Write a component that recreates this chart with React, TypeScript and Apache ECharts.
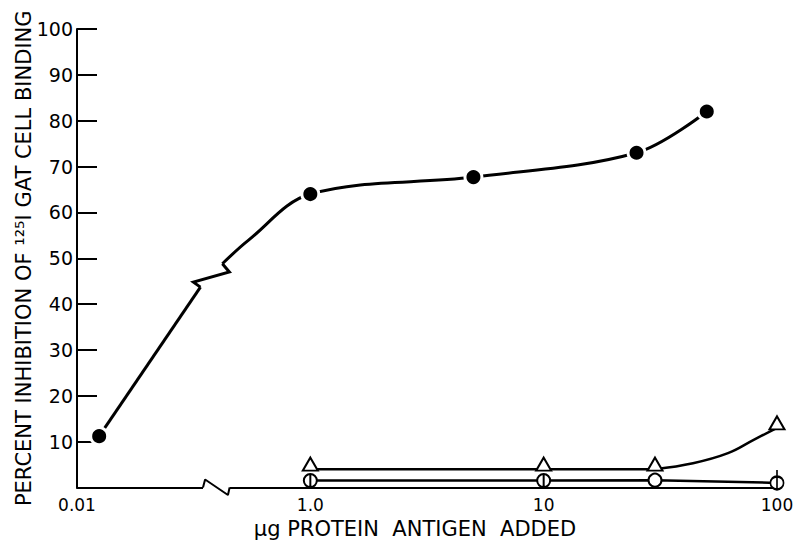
import React, { useEffect, useRef } from "react";
import * as echarts from "echarts";

// Filled circles: GAT-specific inhibition curve
const DOSE_UG = [0.01, 1, 5, 25, 50];
const GAT_INHIBITION = [11.2, 64, 67.7, 73, 82];

// Open triangles
const TRI_DOSE_UG = [1, 10, 30, 100];
const TRI_INHIBITION = [4.0, 4.0, 4.0, 13.0];

// Open circles
const CIRC_DOSE_UG = [1, 10, 30, 100];
const CIRC_INHIBITION = [1.5, 1.5, 1.6, 1.0];

// Course of the drawn curves between measured points (axis position, %)
const GAT_BREAK_POS = [-0.471, -0.501, -0.347, -0.377];
const GAT_BREAK_VAL = [43.7, 44.8, 47.0, 48.8];
const GAT_BEND_POS = [-0.266];
const GAT_BEND_VAL = [53.9];
const TRI_BEND_POS = [1.64, 1.79, 1.9];
const TRI_BEND_VAL = [5.3, 7.5, 10.4];

// Break drawn in the dose axis between 0.01 and 1.0
const AXIS_BREAK_POS = [-0.46, -0.451, -0.353, -0.346];
const AXIS_BREAK_VAL = [0, 1.74, -1.64, 0];

// Tick labels at axis positions -1, 0, 1, 2
const X_TICK_LABELS = ["0.01", "1.0", "10", "100"];

// Doses below 1 µg sit on a compressed log scale left of the break
const LOW_DOSE_SCALE = 0.4525;
const axisPos = (ug: number) =>
  ug >= 1 ? Math.log10(ug) : LOW_DOSE_SCALE * Math.log10(ug);

const FONT = '"DejaVu Sans", sans-serif';
const INK = "#000";

const PHI =
  "path://M10,0 A10,10 0 1,1 10,20 A10,10 0 1,1 10,0 Z M10,0 L10,20";
const PHI_STEM =
  "path://M10,10 A10,10 0 1,1 10,30 A10,10 0 1,1 10,10 Z M10,0 L10,30";

export default function App() {
  const ref = useRef<HTMLDivElement>(null);

  useEffect(() => {
    if (!ref.current) return;
    const chart = echarts.init(ref.current, null, { renderer: "svg" });

    const gatPoints = DOSE_UG.map((d, i) => [axisPos(d), GAT_INHIBITION[i]]);
    const breakPoints = GAT_BREAK_POS.map((p, i) => [p, GAT_BREAK_VAL[i]]);
    const bendPoints = GAT_BEND_POS.map((p, i) => [p, GAT_BEND_VAL[i]]);
    const triPoints = TRI_DOSE_UG.map((d, i) => [axisPos(d), TRI_INHIBITION[i]]);
    const triBend = TRI_BEND_POS.map((p, i) => [p, TRI_BEND_VAL[i]]);
    const circMarkers = [
      { symbol: PHI, symbolSize: [13, 13], symbolOffset: [0, 0] },
      { symbol: PHI, symbolSize: [13, 13], symbolOffset: [0, 0] },
      { symbol: "circle", symbolSize: [13, 13], symbolOffset: [0, 0] },
      { symbol: PHI_STEM, symbolSize: [13, 19.5], symbolOffset: [0, -3.25] },
    ];
    const circData = CIRC_DOSE_UG.map((d, i) => ({
      value: [axisPos(d), CIRC_INHIBITION[i]],
      ...circMarkers[i],
    }));
    const axisBreak = AXIS_BREAK_POS.map((p, i) => [p, AXIS_BREAK_VAL[i]]);

    chart.setOption({
      animation: false,
      backgroundColor: "#fff",
      grid: { left: 77, right: 20, top: 29, bottom: 62.5 },
      xAxis: {
        type: "value",
        min: -1,
        max: 2,
        interval: 1,
        axisLine: { show: true, onZero: false, lineStyle: { color: INK, width: 2 } },
        axisTick: { show: false },
        splitLine: { show: false },
        axisLabel: {
          showMinLabel: true,
          showMaxLabel: true,
          margin: 9,
          color: INK,
          fontFamily: FONT,
          fontSize: 17,
          formatter: (v: number) => X_TICK_LABELS[Math.round(v) + 1] ?? "",
        },
        name: "μg PROTEIN  ANTIGEN  ADDED",
        nameLocation: "middle",
        nameGap: 31,
        nameMoveOverlap: false,
        nameTextStyle: { color: INK, fontFamily: FONT, fontSize: 21, padding: [0, 24, 0, 0] },
      },
      yAxis: {
        type: "value",
        min: 0,
        max: 100,
        interval: 10,
        axisLine: { show: true, onZero: false, lineStyle: { color: INK, width: 2 } },
        axisTick: { show: true, inside: true, length: 20, lineStyle: { color: INK, width: 2 } },
        splitLine: { show: false },
        axisLabel: {
          margin: 4,
          color: INK,
          fontFamily: FONT,
          fontSize: 19,
          formatter: (v: number) => (v === 0 ? "" : String(v)),
        },
        name: "PERCENT INHIBITION OF ¹²⁵I GAT CELL BINDING",
        nameLocation: "middle",
        nameRotate: 90,
        nameGap: 43,
        nameMoveOverlap: false,
        nameTextStyle: { color: INK, fontFamily: FONT, fontSize: 21 },
      },
      series: [
        {
          name: "axis-break-mask",
          type: "line",
          clip: false,
          silent: true,
          showSymbol: false,
          z: 3,
          data: [axisBreak[0], axisBreak[3]],
          lineStyle: { color: "#fff", width: 6 },
        },
        {
          name: "axis-break",
          type: "line",
          clip: false,
          silent: true,
          showSymbol: false,
          z: 4,
          data: axisBreak,
          lineStyle: { color: INK, width: 2 },
        },
        {
          name: "GAT low dose",
          type: "line",
          showSymbol: false,
          z: 5,
          data: [gatPoints[0], breakPoints[0]],
          lineStyle: { color: INK, width: 3 },
        },
        {
          name: "GAT break",
          type: "line",
          showSymbol: false,
          z: 5,
          data: breakPoints,
          lineStyle: { color: INK, width: 3, join: "miter" },
        },
        {
          name: "GAT curve",
          type: "line",
          showSymbol: false,
          smooth: 0.35,
          z: 5,
          data: [breakPoints[3], ...bendPoints, ...gatPoints.slice(1)],
          lineStyle: { color: INK, width: 3 },
        },
        {
          name: "GAT",
          type: "scatter",
          z: 10,
          symbol: "circle",
          symbolSize: 17,
          data: gatPoints,
          itemStyle: { color: INK, borderColor: "#fff", borderWidth: 3, opacity: 1 },
        },
        {
          name: "triangle flat",
          type: "line",
          showSymbol: false,
          z: 5,
          data: triPoints.slice(0, 3),
          lineStyle: { color: INK, width: 2.5 },
        },
        {
          name: "triangle rise",
          type: "line",
          showSymbol: false,
          smooth: 0.4,
          z: 5,
          data: [triPoints[2], ...triBend, triPoints[3]],
          lineStyle: { color: INK, width: 2.5 },
        },
        {
          name: "triangles",
          type: "scatter",
          z: 10,
          symbol: "triangle",
          symbolSize: [15, 13],
          symbolOffset: [0, -5],
          data: triPoints,
          itemStyle: { color: "#fff", borderColor: INK, borderWidth: 2, opacity: 1 },
        },
        {
          name: "circles",
          type: "line",
          z: 6,
          showSymbol: true,
          showAllSymbol: true,
          data: circData,
          lineStyle: { color: INK, width: 2.5 },
          itemStyle: { color: "#fff", borderColor: INK, borderWidth: 2 },
        },
      ],
    });

    return () => chart.dispose();
  }, []);

  return (
    <div
      ref={ref}
      style={{ position: "absolute", left: 0, top: 0, width: 797, height: 550 }}
    />
  );
}
